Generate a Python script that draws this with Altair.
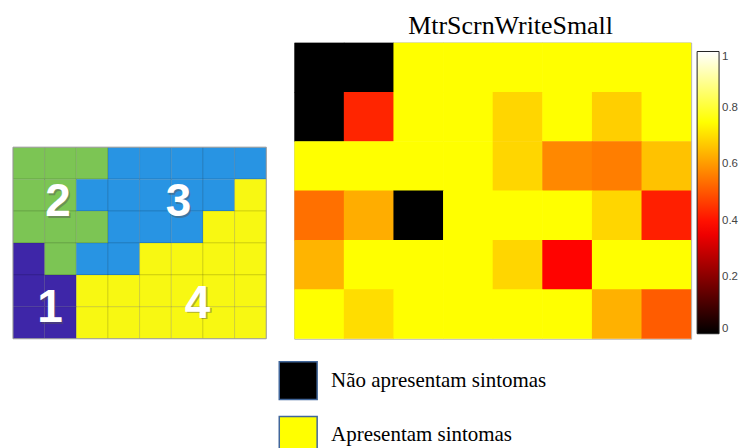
import altair as alt
import pandas as pd

# ---------- Left panel: region map (8 columns x 6 rows, top row first) ----------
region_rows = [
    [2, 2, 2, 3, 3, 3, 3, 3],
    [2, 2, 3, 3, 3, 3, 3, 4],
    [2, 2, 2, 3, 3, 3, 4, 4],
    [1, 2, 3, 3, 4, 4, 4, 4],
    [1, 1, 4, 4, 4, 4, 4, 4],
    [1, 1, 4, 4, 4, 4, 4, 4],
]
region_ids = ["1", "2", "3", "4"]
region_colors = ["#3e26a8", "#7cc554", "#2894e3", "#f8f812"]
label_text = ["1", "2", "3", "4"]
label_col = [1.17, 1.42, 5.23, 5.83]
label_row = [5.05, 1.72, 1.72, 4.90]

# ---------- Right panel: heatmap values (8 columns x 6 rows, top row first) ----------
heat_rows = [
    [0.00, 0.00, 0.75, 0.75, 0.75, 0.75, 0.75, 0.75],
    [0.00, 0.43, 0.75, 0.75, 0.69, 0.75, 0.68, 0.75],
    [0.75, 0.75, 0.75, 0.75, 0.69, 0.575, 0.56, 0.66],
    [0.54, 0.63, 0.00, 0.75, 0.75, 0.75, 0.69, 0.42],
    [0.64, 0.75, 0.75, 0.75, 0.69, 0.38, 0.75, 0.75],
    [0.75, 0.70, 0.75, 0.75, 0.75, 0.75, 0.635, 0.51],
]
heat_title = "MtrScrnWriteSmall"
cbar_ticks = [0, 0.2, 0.4, 0.6, 0.8, 1]
hot_stops = [0, 0.375, 0.75, 1]
hot_colors = ["#000000", "#ff0000", "#ffff00", "#ffffff"]
legend_labels = ["Não apresentam sintomas", "Apresentam sintomas"]
legend_colors = ["#000000", "#ffff00"]

# ---------- tables ----------
left_df = pd.DataFrame(
    [{"col": c, "row": r, "region": str(v)}
     for r, row in enumerate(region_rows) for c, v in enumerate(row)]
)
lab_df = pd.DataFrame({"t": label_text, "cx": label_col, "cy": label_row})
border_df = pd.DataFrame({"c0": [0], "c1": [len(region_rows[0])], "r0": [0], "r1": [len(region_rows)]})
heat_df = pd.DataFrame(
    [{"col": c, "row": r, "value": v}
     for r, row in enumerate(heat_rows) for c, v in enumerate(row)]
)
leg_df = pd.DataFrame({"label": legend_labels})

# ---------- left chart ----------
xs_l = alt.Scale(domain=[0, 8], nice=False, zero=False)
ys_l = alt.Scale(domain=[-3.28, 6], nice=False, zero=False, reverse=True)

cells = alt.Chart(left_df).transform_calculate(
    col2="datum.col + 1", row2="datum.row + 1"
).mark_rect(stroke="black", strokeOpacity=0.12, strokeWidth=1).encode(
    x=alt.X("col:Q", scale=xs_l, axis=None),
    x2="col2:Q",
    y=alt.Y("row:Q", scale=ys_l, axis=None),
    y2="row2:Q",
    fill=alt.Fill("region:N", scale=alt.Scale(domain=region_ids, range=region_colors), legend=None),
)
border = alt.Chart(border_df).mark_rect(fillOpacity=0, stroke="#a0a0a0", strokeWidth=1).encode(
    x=alt.X("c0:Q", scale=xs_l, axis=None), x2="c1:Q",
    y=alt.Y("r0:Q", scale=ys_l, axis=None), y2="r1:Q",
)
shadow = alt.Chart(lab_df).mark_text(
    font="Liberation Sans", fontWeight="bold", fontSize=46, color="#555555", opacity=0.45,
    align="center", baseline="middle", dx=1.5, dy=1.5,
).encode(x=alt.X("cx:Q", scale=xs_l, axis=None), y=alt.Y("cy:Q", scale=ys_l, axis=None), text="t:N")
labels = alt.Chart(lab_df).mark_text(
    font="Liberation Sans", fontWeight="bold", fontSize=46, color="white",
    align="center", baseline="middle",
).encode(x=alt.X("cx:Q", scale=xs_l, axis=None), y=alt.Y("cy:Q", scale=ys_l, axis=None), text="t:N")

left = alt.layer(cells, border, shadow, labels).properties(
    width=254, height=297, view=alt.ViewConfig(stroke="transparent")
)

# ---------- right chart ----------
xs_r = alt.Scale(domain=[0, 8], nice=False, zero=False)
ys_r = alt.Scale(domain=[0, 6], nice=False, zero=False, reverse=True)
hot_scale = alt.Scale(domain=hot_stops, range=hot_colors, interpolate="rgb")

# cells overlap by a hair so no anti-aliasing seams show between them
heat = alt.Chart(heat_df).transform_calculate(
    col2="datum.col + 1.012", row2="datum.row + 1.012"
).mark_rect(clip=True).encode(
    x=alt.X("col:Q", scale=xs_r, axis=None),
    x2="col2:Q",
    y=alt.Y("row:Q", scale=ys_r, axis=None),
    y2="row2:Q",
    color=alt.Color(
        "value:Q",
        scale=hot_scale,
        legend=alt.Legend(
            orient="none", legendX=404, legendY=9, direction="vertical",
            gradientLength=283, gradientThickness=22,
            gradientStrokeColor="#222222", gradientStrokeWidth=1,
            values=cbar_ticks, format="~g", title=None,
            labelFont="Liberation Sans", labelFontSize=11.5, labelColor="#444444",
            labelBaseline="middle", labelOffset=3, labelOverlap=False, padding=0,
        ),
    ),
)
dummy = alt.Chart(leg_df).transform_filter("false").mark_square().encode(
    fill=alt.Fill(
        "label:N",
        scale=alt.Scale(domain=legend_labels, range=legend_colors),
        legend=alt.Legend(
            orient="none", legendX=-16, legendY=319, direction="vertical", title=None,
            symbolType="square", symbolSize=1444, symbolStrokeColor="#41669a",
            symbolStrokeWidth=1.5, symbolOpacity=1,
            labelFont="Liberation Serif", labelFontSize=21, labelColor="black",
            labelOffset=13, rowPadding=11, padding=0, labelLimit=400,
        ),
    )
)

right = alt.layer(heat, dummy).properties(
    width=398, height=297,
    view=alt.ViewConfig(stroke="#b0b0b0", strokeWidth=1),
    title=alt.TitleParams(
        heat_title, font="Liberation Serif", fontSize=26, fontWeight="normal",
        color="black", anchor="middle", frame="group", dx=18, offset=4,
    ),
)

chart = alt.hconcat(left, right, spacing=28, bounds="flush").resolve_scale(
    fill="independent", color="independent",
    x="independent", y="independent"
).properties(
    padding={"left": 4, "top": 3, "right": 0, "bottom": 0}
).configure(background="white")

chart.save("out.html", embed_options={"renderer": "svg", "actions": False})
